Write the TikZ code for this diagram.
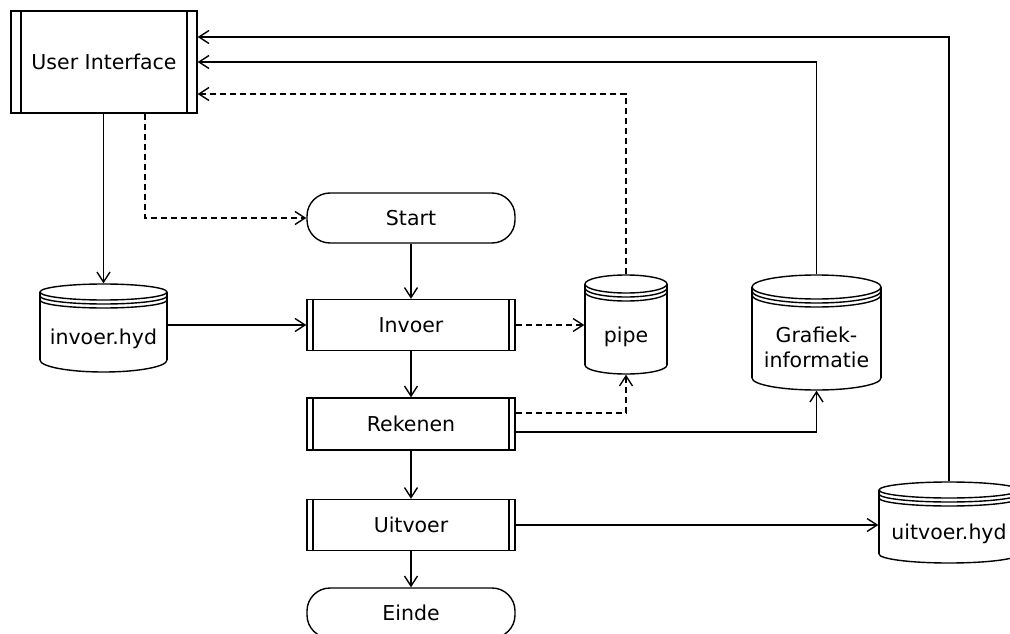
\documentclass[tikz,border=0pt]{standalone}
\usepackage{fontspec}
\setmainfont{DejaVu Sans}
\usetikzlibrary{arrows.meta,calc}

% storage drum: name, left x, right x, top y, bottom y, lid radius, base sag, text
\newcommand\drum[8]{%
  \node[inner sep=0pt, minimum width={#3-#2}, minimum height={#5-#4}] (#1) at ({(#2+#3)/2},{(#4+#5)/2}) {};
  \draw ({(#2+#3)/2},{#4+#6}) ellipse [x radius={(#3-#2)/2}, y radius=#6];
  \draw (#2,{#4+#6+4}) arc [start angle=180, end angle=0, x radius={(#3-#2)/2}, y radius=#6];
  \draw (#2,{#4+#6+8}) arc [start angle=180, end angle=0, x radius={(#3-#2)/2}, y radius=#6];
  \draw (#2,{#4+#6}) -- (#2,{#5-#7});
  \draw (#3,{#4+#6}) -- (#3,{#5-#7});
  \draw (#2,{#5-#7}) arc [start angle=180, end angle=0, x radius={(#3-#2)/2}, y radius=#7];
  \node[align=center] at ({(#2+#3)/2},{(#4+2*#6+6+#5)/2}) {#8};
}

\begin{document}
\begin{tikzpicture}[x=1pt, y=-1pt, line width=1.4pt,
  every node/.style={font=\fontsize{20.5}{25}\selectfont},
  proc/.style={draw, inner sep=0pt,
    path picture={\draw[line width=1.4pt]
      ([xshift=#1]path picture bounding box.north west) -- ([xshift=#1]path picture bounding box.south west)
      ([xshift=-#1]path picture bounding box.north east) -- ([xshift=-#1]path picture bounding box.south east);}},
  term/.style={draw, inner sep=0pt, rounded corners=23pt, minimum width=208pt, minimum height=50pt},
  arr/.style={-{Straight Barb[length=10pt,width=13pt]}},
  dsh/.style={dash pattern=on 6pt off 4pt}]
\useasboundingbox (0,0) rectangle (1010,634);
\clip (0,0) rectangle (1010,634);

% processes and terminators
\node[proc=10pt, minimum width=186pt, minimum height=102pt] (ui) at (104,62) {User Interface};
\node[term] (start) at (411,218) {Start};
\node[proc=6pt, minimum width=208pt, minimum height=51pt] (inv) at (411,325) {Invoer};
\node[proc=6pt, minimum width=208pt, minimum height=52pt] (rek) at (411,424) {Rekenen};
\node[proc=6pt, minimum width=208pt, minimum height=51pt] (uit) at (411,525) {Uitvoer};
\node[term] (einde) at (411,613) {Einde};

% data stores
\drum{invhyd}{40}{167}{284}{372}{8}{12}{invoer.hyd}
\drum{pipe}{585}{667}{275}{374}{9}{9}{pipe}
\drum{graf}{752}{881}{275}{390}{12}{12}{Grafiek-\\informatie}
\drum{uhyd}{879}{1019}{482}{563}{8}{9}{uitvoer.hyd}

% main flow
\draw[arr] (start.south) -- (inv.north);
\draw[arr] (inv.south) -- (rek.north);
\draw[arr] (rek.south) -- (uit.north);
\draw[arr] (uit.south) -- (einde.north);

% data connections
\draw[arr] (ui.south -| invhyd.north) -- (invhyd.north);
\draw[arr,dsh] ([xshift=41pt]ui.south) |- (start.west);
\draw[arr] (inv.west -| invhyd.east) -- (inv.west);
\draw[arr,dsh] (inv.east) -- (inv.east -| pipe.west);
\draw[arr,dsh] ([yshift=11pt]rek.east) -| (pipe.south);
\draw[arr] ([yshift=-8pt]rek.east) -| (graf.south);
\draw[arr] (uit.east) -- (uit.east -| uhyd.west);

% feedback to the user interface
\draw[arr,dsh] (pipe.north) |- ([yshift=-32pt]ui.east);
\draw[arr] (graf.north) |- (ui.east);
\draw[arr] (uhyd.north) |- ([yshift=25pt]ui.east);
\end{tikzpicture}
\end{document}
